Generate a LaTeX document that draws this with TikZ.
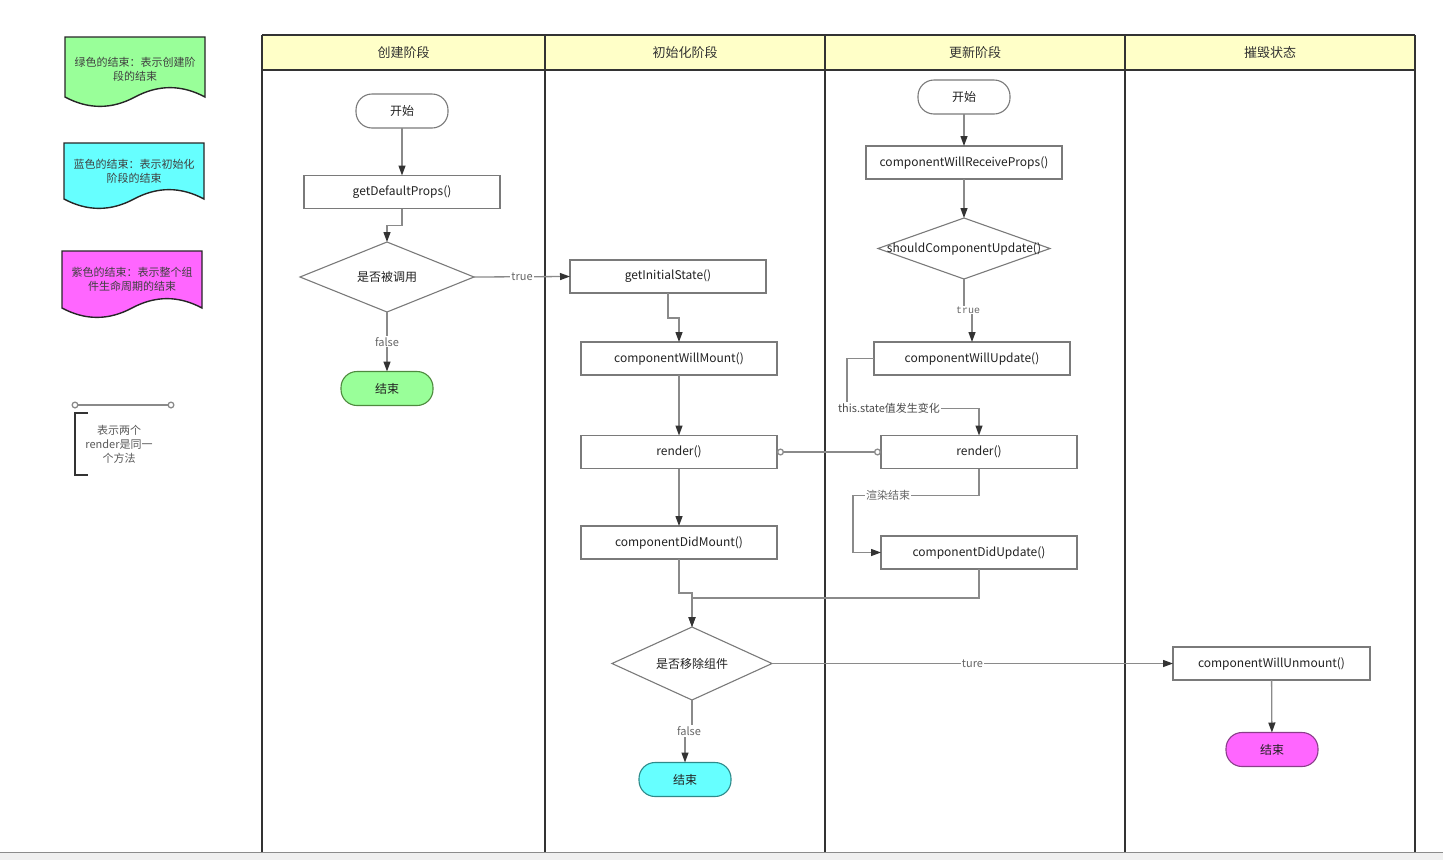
\documentclass[tikz,border=0pt]{standalone}
\usepackage{fontspec}
\setmainfont{Noto Sans CJK SC}
\newfontfamily\mymono{Liberation Mono}
\usetikzlibrary{arrows.meta,shapes.geometric,calc}
\definecolor{lanec}{HTML}{333333}
\definecolor{headF}{HTML}{FFFFC8}
\definecolor{boxc}{HTML}{7A7A7A}
\definecolor{edgec}{HTML}{8A8A8A}
\definecolor{arrowc}{HTML}{333333}
\definecolor{labc}{HTML}{666666}
\definecolor{txtc}{HTML}{222222}
\definecolor{greenF}{HTML}{99FF99}
\definecolor{greenD}{HTML}{4E8A3E}
\definecolor{cyanF}{HTML}{66FFFF}
\definecolor{cyanD}{HTML}{2E8A8A}
\definecolor{magF}{HTML}{FF66FF}
\definecolor{magD}{HTML}{8A3E8A}
\tikzset{
  lane/.style={draw=lanec, line width=1.8pt},
  box/.style={draw=boxc, line width=1.1pt, fill=white, minimum width=196pt, minimum height=33pt, inner sep=0pt, outer sep=0pt, text=txtc, font=\fontsize{12}{14}\selectfont},
  term/.style={draw=boxc, line width=1.1pt, fill=white, rounded corners=16pt, minimum width=92pt, minimum height=34pt, inner sep=0pt, outer sep=0pt, text=txtc, font=\fontsize{12}{14}\selectfont},
  dia/.style={diamond, draw=boxc, line width=1.1pt, fill=white, inner sep=0pt, outer sep=0pt},
  txt/.style={text=txtc, font=\fontsize{12}{14}\selectfont, inner sep=0pt},
  edge/.style={draw=edgec, line width=1.3pt, -{Triangle[length=10pt,width=7pt,color=arrowc]}},
  conn/.style={draw=edgec, line width=1.3pt, {Circle[length=7pt,width=7pt,fill=white]}-{Circle[length=7pt,width=7pt,fill=white]}},
  lbl/.style={fill=white, inner sep=1pt, text=labc, font=\fontsize{11}{13}\selectfont},
  doctext/.style={text=black!75, align=center, font=\fontsize{11}{14}\selectfont, inner sep=0pt},
  docb/.style={draw=black!85, line width=1.4pt},
  headtxt/.style={text=lanec, font=\fontsize{13}{15}\selectfont}
}
\begin{document}
\begin{tikzpicture}[x=1pt,y=-1pt]
\useasboundingbox (0,0) rectangle (1443,860);
% bottom strip
\fill[black!6] (0,853) rectangle (1443,860);
\draw[black!45, line width=0.8pt] (0,852.5) -- (1443,852.5);

% lanes
\fill[headF] (262,35) rectangle (1415,70);
\draw[lane] (262,35) -- (1415,35);
\draw[lane] (262,70) -- (1415,70);
\foreach \xx in {262,545,825,1125,1415} { \draw[lane] (\xx,35) -- (\xx,852); }
\node[headtxt] (h1) at (403.5,52.5) {创建阶段};
\node[headtxt] (h2) at (685,52.5) {初始化阶段};
\node[headtxt] (h3) at (975,52.5) {更新阶段};
\node[headtxt] (h4) at (1270,52.5) {摧毁状态};

% legend documents
\begin{scope}[shift={(65,37)}]
\draw[docb, fill=greenF] (0,0) -- (140,0) -- (140,60) .. controls (116.67,47.5) and (93.33,47.5) .. (70,60) .. controls (46.67,72.5) and (23.33,72.5) .. (0,60) -- cycle;
\node[doctext] (lg1) at (70,32) {绿色的结束：表示创建阶\\段的结束};
\end{scope}
\begin{scope}[shift={(64,143)}]
\draw[docb, fill=cyanF] (0,0) -- (140,0) -- (140,56) .. controls (116.67,43.5) and (93.33,43.5) .. (70,56) .. controls (46.67,68.5) and (23.33,68.5) .. (0,56) -- cycle;
\node[doctext] (lg2) at (70,28.5) {蓝色的结束：表示初始化\\阶段的结束};
\end{scope}
\begin{scope}[shift={(62,251)}]
\draw[docb, fill=magF] (0,0) -- (140,0) -- (140,57) .. controls (116.67,44.5) and (93.33,44.5) .. (70,57) .. controls (46.67,69.5) and (23.33,69.5) .. (0,57) -- cycle;
\node[doctext] (lg3) at (70,28.5) {紫色的结束：表示整个组\\件生命周期的结束};
\end{scope}

% legend connector
\coordinate (la) at (71.5,405);
\coordinate (lb) at (174.5,405);
\draw[conn] (la) -- (lb);
\draw[draw=lanec, line width=2.2pt] (88,413) -- (75,413) -- (75,475) -- (88,475);
\node[doctext, text=black!65] (lg4) at (119,444) {表示两个\\render是同一\\个方法};

% lane 1
\node[term] (s1) at (402,111) {开始};
\node[box] (gdp) at (402,192) {getDefaultProps()};
\node[dia, minimum width=174pt, minimum height=70pt] (d1) at (387,277) {};
\node[txt] (d1t) at (d1) {是否被调用};
\node[term, fill=greenF, draw=greenD] (e1) at (387,388.5) {结束};

% lane 2
\node[box] (gis) at (668,276.5) {getInitialState()};
\node[box] (cwm) at (679,358.5) {componentWillMount()};
\node[box] (r1) at (679,452) {render()};
\node[box] (cdm) at (679,542.5) {componentDidMount()};
\node[dia, minimum width=160pt, minimum height=73pt] (d2) at (692,663.5) {};
\node[txt] (d2t) at (d2) {是否移除组件};
\node[term, fill=cyanF, draw=cyanD] (e2) at (685,779.5) {结束};

% lane 3
\node[term] (s2) at (964,97) {开始};
\node[box] (cwrp) at (964,162.5) {componentWillReceiveProps()};
\node[dia, minimum width=172pt, minimum height=61pt] (d3) at (964,248.5) {};
\node[txt] (d3t) at (d3) {shouldComponentUpdate()};
\node[box] (cwu) at (972,358.5) {componentWillUpdate()};
\node[box] (r2) at (979,452) {render()};
\node[box] (cdu) at (979,552.5) {componentDidUpdate()};

% lane 4
\node[box, minimum width=197pt] (cwun) at (1271.5,663.5) {componentWillUnmount()};
\node[term, fill=magF, draw=magD] (e3) at (1272,749.5) {结束};

% edges lane 1
\draw[edge] (s1) -- (gdp);
\draw[edge] (gdp.south) -- ++(0,17) -| (d1.north);
\draw[edge] (d1.south) -- node[lbl] (lf1) {false} (e1.north);
\draw[edge] (d1.east) -- node[lbl] (lt1) {true} (gis.west);

% edges lane 2
\draw[edge] (gis.south) -- ++(0,25) -| (cwm.north);
\draw[edge] (cwm) -- (r1);
\draw[edge] (r1) -- (cdm);
\draw[edge] (cdm.south) -- ++(0,34) -| (d2.north);
\draw[edge] (cdu.south) -- ++(0,29) -| (d2.north);
\draw[edge] (d2.south) -- ++(0,31) coordinate (fj) -| (e2.north);
\node[lbl] (lf2) at ($(fj)+(-3,0)$) {false};
\draw[edge] (d2.east) -- node[lbl] (lt2) {ture} (cwun.west);

% edges lane 3
\draw[edge] (s2) -- (cwrp);
\draw[edge] (cwrp) -- (d3);
\draw[edge] (d3.south) -- ++(0,31) coordinate (tj) -| (cwu.north);
\node[lbl, font=\mymono\fontsize{10}{12}\selectfont] (lt3) at ($(tj)+(4,0)$) {true};
\draw[edge] (cwu.west) -- ++(-27,0) -- ++(0,50) -| (r2.north);
\node[lbl, text=black!70] (lts) at (889,408.5) {this.state值发生变化};
\draw[edge] (r2.south) -- ++(0,27) -- ++(-126,0) |- (cdu.west);
\node[lbl] (lre) at (888,495) {渲染结束};
\draw[conn] (r1.east) -- (r2.west);

% edges lane 4
\draw[edge] (cwun) -- (e3);
\end{tikzpicture}
\end{document}
